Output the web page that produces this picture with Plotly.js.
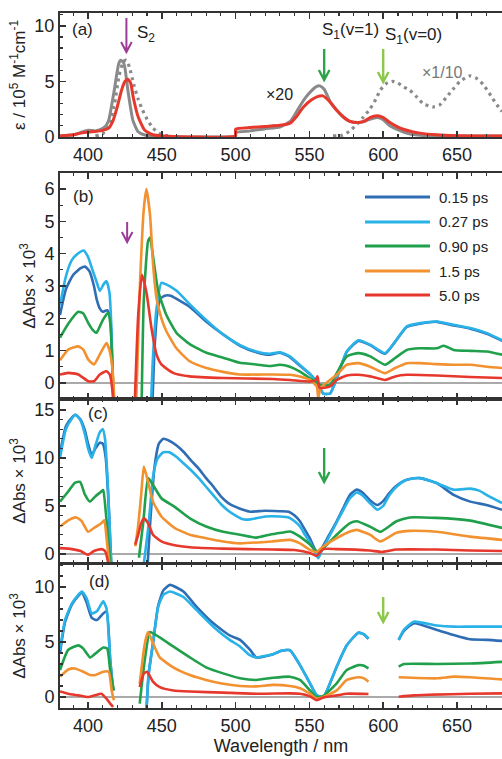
<!DOCTYPE html>
<html><head><meta charset="utf-8">
<script src="https://cdn.plot.ly/plotly-3.0.1.min.js"></script>
<style>html,body{margin:0;padding:0;background:#fff}#chart{width:502px;height:759px}</style>
</head><body><div id="chart"></div>
<script>
// ---------- Panel (a): steady-state absorption ----------
const A_ABS_WL = [381,390,395,400,405,409,412,414,417.5,420.8,422,424,425,427,430.4,433.8,438,445,499.9,500,510,520,530,537,541,546,551,555,557,560,564,568.5,573,577.5,583,587,591,596,600,604.6,609,613.6,619,625,636,681];
const A_ABS    = [0.1,0.2,0.4,0.6,0.55,0.7,1.0,1.5,4.0,6.6,6.9,6.7,6.2,4.2,1.5,0.5,0.2,0.1,0.1,0.4,0.55,0.75,0.9,1.4,2.2,3.3,4.1,4.55,4.6,4.3,3.2,2.4,1.8,1.4,1.3,1.4,1.6,1.75,1.55,1.0,0.7,0.45,0.25,0.15,0.1,0.1];
const A_RED_WL = [381,390,395,400,405,410,414,417,420,422.7,425,427,429,430.6,434,438.5,444,450,499.9,500,510,520,530,537,541,546,551,555,559,563,568.5,573,577.5,583,587,591,596,600,604.6,609,613.6,619,625,636,650,681];
const A_RED    = [0.1,0.2,0.35,0.45,0.5,0.6,0.8,1.5,2.8,4.2,5.0,5.2,4.8,3.6,1.8,0.6,0.2,0.1,0.1,0.7,0.85,0.95,1.05,1.25,1.8,2.7,3.3,3.6,3.7,3.3,2.4,1.8,1.4,1.3,1.4,1.75,1.9,1.75,1.3,0.95,0.7,0.5,0.35,0.2,0.12,0.1];
const A_FB_WL  = [405,410,414,418,421,424,426,428,431,434,437,440,444,448,452,456,510,566,572,577,582,586,591,595,598,602,606.6,610,614,618,622,627,633.7,638,643,648,652,658.8,663,667.6,671,674,677,680.5];
const A_FB     = [0.1,0.3,1.0,3.0,5.5,6.8,6.9,6.3,4.7,3.4,2.4,1.6,0.8,0.35,0.15,0.1,null,0.1,0.15,0.5,1.1,1.7,2.5,3.4,4.2,4.8,5.0,4.85,4.5,4.2,3.7,3.0,2.7,2.85,3.6,4.4,5.0,5.5,5.3,4.75,4.1,3.5,2.9,2.3];

// ---------- Series names ----------
const DELAYS = ['0.15 ps','0.27 ps','0.90 ps','1.5 ps','5.0 ps'];

// ---------- Panel (b) ----------
const B_WL_015 = [381,385,390,395,398,401,404,406,408,410,413,415,416.5,418,430,443,445,447,449,452,456,460,469,480,491.5,503,514,523,530,536.8,543.6,550.4,555,559.4,564,568.5,575.3,583.2,591.2,601.3,608.1,616,625,636.4,647.7,659,670.3,680.7];
const B_015    = [2.1,2.9,3.35,3.55,3.6,3.45,3.0,2.56,2.3,2.2,2.25,2.0,0.5,-1.5,null,-1.5,1.0,2.2,2.6,2.7,2.7,2.6,2.35,1.9,1.5,1.15,0.95,0.87,0.93,0.8,0.53,0.27,0.03,-0.33,-0.33,0.14,0.96,1.3,1.17,0.9,1.27,1.73,1.83,1.89,1.78,1.68,1.52,1.3];
const B_WL_027 = [381,385,389,393,397,400,403,406,408,410.5,412.5,414.5,416,417.5,430,442,444,446.4,449.7,453,460,469,480,491.5,503,514,523,530,536.8,543.6,550.4,555,559.4,564,568.5,575.3,583.2,591.2,601.3,608.1,616,625,636.4,647.7,659,670.3,680.7];
const B_027    = [2.4,3.3,3.8,4.0,4.1,3.9,3.5,3.1,2.85,3.05,3.15,2.8,1.5,-1.5,null,-1.5,0.8,2.3,3.1,3.05,2.85,2.43,1.95,1.5,1.17,0.97,0.9,0.95,0.82,0.55,0.28,0.03,-0.33,-0.33,0.14,0.97,1.32,1.18,0.92,1.28,1.75,1.85,1.9,1.8,1.7,1.54,1.32];
const B_WL_090 = [381,386.6,393.4,396.8,400.2,403,405.7,408,410.2,413.6,415.2,416.5,418,427,436,437.8,440.7,442,444.1,447.5,453.1,459.9,468.9,480.2,491.5,502.8,514,523,530,536.8,543.6,550.4,555,557,564,568.5,575.3,583.2,591.2,601.3,608.1,616,625,636.4,641,647.7,659,670.3,680.7];
const B_090    = [1.4,1.83,2.2,2.15,1.85,1.65,1.55,1.75,1.96,2.17,1.8,0.5,-1.5,null,-1.5,2.6,4.4,4.5,3.9,2.85,2.1,1.55,1.2,0.93,0.78,0.62,0.57,0.52,0.56,0.5,0.35,0.14,0.02,-0.06,-0.06,0.3,0.82,0.92,0.82,0.56,0.77,1.02,1.07,1.07,1.15,1.02,0.99,0.97,0.87];
const B_WL_15  = [381,386.6,393.4,396.8,400.2,404,408,412.5,414.7,417,418.5,425,432,435,437.8,439.6,442,444.1,446.4,449.7,453.1,459.9,468.9,480.2,491.5,502.8,525,536.8,543.6,550.4,555,556,557.5,568.5,575.3,583.2,591.2,601.3,608.1,616,625,636.4,647.7,659,670.3,680.7];
const B_15     = [0.7,1.03,1.13,1.03,0.72,0.57,0.88,1.23,0.98,0.2,-1.5,null,-1.5,2.83,5.4,6.0,5.2,3.65,2.62,2.0,1.6,1.07,0.67,0.46,0.34,0.26,0.26,0.25,0.2,0.09,-0.11,-0.47,-0.16,0.25,0.56,0.61,0.5,0.3,0.46,0.61,0.61,0.58,0.56,0.56,0.5,0.46];
const B_WL_50  = [381,386.6,393.4,400.2,404,408,412.5,414.7,417,418,425,431,434,436.5,439.6,443,446.4,449.7,457.6,469,491.5,525,536.8,550.4,554,555.5,557,564,568.5,575.3,583.2,591.2,601.3,608.1,616,636.4,659,680.7];
const B_50     = [0.26,0.31,0.26,0.05,0.05,0.26,0.36,0.26,-0.46,-1.5,null,-1.5,2.1,3.35,2.8,1.69,0.88,0.57,0.31,0.2,0.15,0.12,0.09,0.04,0.08,0.2,-0.16,-0.11,0.09,0.23,0.25,0.2,0.09,0.2,0.25,0.23,0.18,0.15];

// ---------- Panel (c) ----------
const C_WL_015 = [381,385,389,391.5,395,398,400,402.5,405,408,410,412,414,416,428,440,442,445,448,451,455,460,465,470,475,480,485,490,495,500,505,510,520,530,536,540,543.6,547,550.4,553.8,555.5,558,562,568.5,573,577.5,582,586,591,596,600,604,609,614,618,625,636,647.7,659,670,680.5];
const C_015    = [10.5,13.3,14.2,14.5,14.0,12.8,11.5,10.3,11.0,11.6,11.5,10.0,5.0,-2,null,-2,3,9,11.5,12.0,11.8,11.3,10.6,9.7,8.9,7.9,7.0,6.0,5.3,4.9,4.6,4.4,4.5,4.45,4.4,4.0,3.4,2.5,1.6,0.45,0.1,0.5,1.6,3.4,4.8,6.15,6.7,6.4,5.6,5.1,5.5,6.3,7.1,7.6,7.8,7.9,7.4,6.15,5.45,5.1,4.6];
const C_WL_027 = [381,385,389,391.5,395,398,400,402.5,405,408,410,411.5,413.5,416,426,437,441,444,447,451,455,460,465,470,475,480,485,490,495,500,505,510,520,530,536,540,543.6,547,550.4,553.8,556,558,562,568.5,573,577.5,582,586,591,596,600,604,609,614,618,625,636,647.7,659,665,670,680.5];
const C_027    = [10.0,13.0,14.1,14.5,13.9,12.4,11.0,10.0,11.3,12.7,13.0,12.0,7.0,-2,null,-2,3,8,9.9,10.6,10.6,10.1,9.4,8.7,7.9,7.0,6.1,5.2,4.5,4.0,3.6,3.6,3.9,3.9,3.8,3.4,2.85,2.0,1.2,0.2,-0.45,0.2,1.4,3.3,4.6,5.8,6.4,6.1,5.3,4.6,5.0,6.1,7.0,7.6,7.8,7.9,7.4,6.7,6.8,6.6,6.15,5.3];
const C_WL_090 = [381,386.6,391,394.6,398,401.3,405,409,410.3,412,414,415.5,425,434.5,437.5,440.7,444,449.7,458.7,469,480,491.5,503,514,523,531,537,543.6,550.4,555,559.4,568.5,577.5,582,591,598,609,618,636,659,680.7];
const C_090    = [5.45,6.5,7.4,7.5,6.15,5.45,6.0,6.5,6.67,4.4,1.0,-2,null,-0.4,3.4,7.9,7.2,5.8,4.9,3.7,2.85,2.3,2.0,1.7,2.0,2.2,2.33,1.8,0.97,0.28,0.6,2.0,3.2,3.4,2.85,2.3,3.4,3.8,3.75,3.47,2.7];
const C_WL_15  = [381,386.6,392,395.8,400,404,409,411,412.6,414,415,424,432,434,436,437.8,440.7,444,449.7,458.7,469,480,491.5,503,525,537,543.6,550.4,555,559.4,568.5,577.5,582,591,598,609,618,636,659,680.7];
const C_15     = [2.85,3.5,3.8,3.4,2.3,2.7,3.2,3.5,1.6,-0.5,-2,null,0.8,3.0,6.15,9.1,7.5,5.45,3.9,2.7,2.0,1.64,1.3,1.1,1.3,1.46,1.1,0.42,0.2,0.77,1.64,2.33,2.5,2.0,1.3,2.2,2.4,2.3,1.8,1.46];
const C_WL_50  = [381,389,395,400,404,409,411.5,413.5,414.5,424,432,434,436,437.8,440.7,444,449.7,458.7,469,491.5,525,540,550.4,555,559.4,568.5,591,599,609,636,659,680.7];
const C_50     = [0.6,0.5,0.3,-0.1,0.3,0.5,0.3,-0.8,-2,null,0.97,2.0,3.2,3.7,3.2,2.0,1.3,0.9,0.7,0.55,0.45,0.4,0.1,-0.2,0.5,0.5,0.35,0.2,0.45,0.45,0.35,0.3];

// ---------- Panel (d) ----------
const D_WL_BLUE = [381,384.4,389,393.4,395.8,399,402.5,406,410.3,412.6,415,417,428,439.5,441,444,447.5,451,455.5,464.6,473.6,484.9,496,503,509.7,514,525.4,531,536.8,543.6,550.4,555,559.4,568.5,575.3,583.2,587,590,600,610.5,613.9,620.7,636.5,647.8,659,670.4,680.8];
const D_015    = [4.0,6.8,8.4,9.2,9.5,8.6,7.2,7.0,7.6,7.8,3.4,0.6,null,-1.5,2,4.9,8.3,9.7,10.2,9.6,8.2,6.7,5.6,5.2,4.3,3.6,3.9,4.2,4.25,2.9,1.24,0.15,0.0,2.76,4.7,5.85,5.7,5.3,null,5.2,6.0,6.7,6.1,5.64,5.25,5.2,5.1];
const D_027    = [4.27,7.0,8.5,9.3,9.6,9.0,7.6,7.8,8.7,8.0,3.4,0.6,null,-1.5,2,4.9,8.2,9.3,9.6,9.1,7.9,6.4,5.2,4.6,3.8,3.6,3.9,4.2,4.27,2.9,1.24,0.15,0.0,2.76,4.7,5.85,5.7,5.3,null,5.2,6.1,6.85,6.5,6.4,6.4,6.4,6.4];
const D_WL_090 = [381,386.6,393.4,396.8,401.3,404.5,410.3,413,415,417.5,426,435,438.5,441.9,446.4,457.7,469,480,491.5,503,514,525.4,536.8,543.6,550.4,555,559.4,568.5,575.3,583.2,587,590,600,610.5,613.9,636.5,659,680.8];
const D_090    = [2.45,4.3,4.7,4.4,3.6,3.9,4.5,4.4,2.45,0.6,null,-0.6,3.4,5.9,5.6,4.6,3.6,2.7,2.15,1.7,1.55,1.75,1.85,1.55,0.6,0.0,0.1,1.24,2.45,2.9,2.85,2.6,null,2.76,3.0,3.0,3.05,3.2];
const D_WL_15  = [381,386.6,391,396.8,401.3,405,410.3,414,416,417.5,426,435,438.5,440.7,444,448.6,457.7,469,480,491.5,503,514,525.4,536.8,543.6,550.4,555,559.4,568.5,575.3,583.2,587,590,600,610.5,636.5,647.8,659,680.8];
const D_15     = [1.85,2.5,2.6,2.3,2.0,2.0,2.3,2.3,0.6,-0.3,null,1.2,4.9,5.9,4.9,3.6,2.7,2.0,1.55,1.2,1.0,0.97,1.1,1.0,0.8,0.3,-0.15,0.0,0.6,1.55,1.8,1.7,1.4,null,1.8,1.7,1.85,1.8,1.6];
const D_WL_50  = [381,386.6,393.4,400,404.5,409,412.5,415,417,426,435,437.8,440,444,448.6,457.7,469,491.5,514,536.8,543.6,550.4,555,559.4,568.5,575.3,590,600,610.5,620.7,659,680.8];
const D_50     = [0.5,0.3,0.15,0.0,0.15,0.3,-0.15,-0.6,-0.9,null,0.9,2.15,2.3,1.4,0.9,0.6,0.5,0.4,0.3,0.33,0.3,0.06,-0.3,-0.05,0.15,0.3,0.27,null,0.03,0.15,0.3,0.33];

// Arrow wavelengths (nm)
const ARROW_S2 = 426, ARROW_V1 = 560, ARROW_V0 = 600;

// ---------- Styling ----------
const W = 502, H = 759;
const FONT = 'Liberation Sans, Arial, Helvetica, sans-serif';
const COLORS = ['#2f6db4', '#29b2e8', '#21a04c', '#f2912f', '#e6382c'];
const PANELS = [{top:13,bottom:137},{top:173,bottom:399},{top:399,bottom:563},{top:564,bottom:708}];
const XL = 60;
const XRANGE = [381, 680.5];
const fx = p => p / W, fy = p => 1 - p / H;
const dom = i => [fy(PANELS[i].bottom), fy(PANELS[i].top)];

const traces = [];
function add(ax, x, y, color, width, dash) {
  traces.push({type:'scatter', mode:'lines', x:x, y:y, xaxis:'x'+(ax||''), yaxis:'y'+(ax||''),
    connectgaps:false, showlegend:false, hoverinfo:'skip',
    line:{color:color, width:width, dash:dash||'solid', shape:'spline', smoothing:0.5}});
}
// (a)
add('', A_FB_WL, A_FB, '#8a8a8a', 3.2, '3px,4px');
add('', A_ABS_WL, A_ABS, '#8a8a8a', 3);
add('', A_RED_WL, A_RED, '#e6382c', 3);
// (b),(c),(d)
const sets = [
  ['2', [[B_WL_015,B_015],[B_WL_027,B_027],[B_WL_090,B_090],[B_WL_15,B_15],[B_WL_50,B_50]]],
  ['3', [[C_WL_015,C_015],[C_WL_027,C_027],[C_WL_090,C_090],[C_WL_15,C_15],[C_WL_50,C_50]]],
  ['4', [[D_WL_BLUE,D_015],[D_WL_BLUE,D_027],[D_WL_090,D_090],[D_WL_15,D_15],[D_WL_50,D_50]]]
];
sets.forEach(([ax, list]) => list.forEach((s, k) => add(ax, s[0], s[1], COLORS[k], 2.6)));

const tickFont = {family:FONT, size:18, color:'#222'};
function xax(i, labels, title) {
  const o = {domain:[fx(XL), 1], range:XRANGE, anchor:'y'+(i?i+1:''),
    showline:true, linecolor:'#333', linewidth:2, mirror:'ticks',
    ticks:'inside', ticklen:6, tickwidth:1.5, tickcolor:'#333', tick0:400, dtick:50,
    minor:{dtick:10, ticks:'inside', ticklen:3, tickwidth:1.2, tickcolor:'#333'},
    showgrid:false, zeroline:false, showticklabels:labels, tickfont:tickFont, fixedrange:true};
  if (title) o.title = {text:title, font:{family:FONT, size:18, color:'#222'}, standoff:4};
  return o;
}
function yax(i, range, dtick, mdt, title) {
  return {domain:dom(i), range:range, anchor:'x'+(i?i+1:''),
    showline:true, linecolor:'#333', linewidth:2, mirror:false,
    ticks:'inside', ticklen:6, tickwidth:1.5, tickcolor:'#333', tick0:0, dtick:dtick,
    minor:{dtick:mdt, ticks:'inside', ticklen:3, tickwidth:1.2, tickcolor:'#333'},
    showgrid:false, zeroline:i>0, zerolinecolor:'#aaaaaa', zerolinewidth:1.5,
    tickfont:tickFont, fixedrange:true,
    title:{text:title, font:{family:FONT, size:17, color:'#222'}, standoff:4}};
}
const DA = 'ΔAbs × 10<sup>3</sup>';

const shapes = [], annotations = [];
function arrow(ax, wl, y1, y2, color, w) {
  const hw = 3.6, hh = 10 / H;
  const ya = fy(y1), yb = fy(y2);
  shapes.push({type:'path', xref:ax, yref:'paper', layer:'above',
    path:`M${wl},${ya} L${wl},${yb} M${wl-hw},${yb+hh} L${wl},${yb} L${wl+hw},${yb+hh}`,
    line:{color:color, width:w}});
}
arrow('x', ARROW_S2, 18, 52, '#9c3c98', 2);
arrow('x', ARROW_V1, 49, 80, '#2ea24c', 2.4);
arrow('x', ARROW_V0, 49, 82, '#8cc84a', 2.4);
arrow('x2', ARROW_S2+0.5, 222, 242, '#9c3c98', 2);
arrow('x3', ARROW_V1, 448, 482, '#2ea24c', 2.4);
arrow('x4', ARROW_V0, 597, 622, '#8cc84a', 2.4);

function txt(t, xp, yp, anchor, size, color) {
  annotations.push({text:t, xref:'paper', yref:'paper', x:fx(xp), y:fy(yp), xanchor:anchor||'left', yanchor:'middle',
    showarrow:false, font:{family:FONT, size:size||17, color:color||'#222'}});
}
txt('(a)', 82, 30, 'center');
txt('(b)', 83, 196, 'center');
txt('(c)', 98, 414, 'center');
txt('(d)', 99, 581, 'center');
txt('S<sub>2</sub>', 135, 34);
txt('S<sub>1</sub>(v=1)', 320, 31);
txt('S<sub>1</sub>(v=0)', 383, 36);
txt('×20', 264, 95, 'left', 16);
txt('×1/10', 420, 72, 'left', 16, '#777');

// manual legend in panel (b)
const LEG_Y = [197, 222, 246, 271, 295];
DELAYS.forEach((name, k) => {
  shapes.push({type:'line', xref:'paper', yref:'paper', x0:fx(365), x1:fx(430), y0:fy(LEG_Y[k]), y1:fy(LEG_Y[k]),
    line:{color:COLORS[k], width:3}});
  txt(name, 437, LEG_Y[k], 'left', 15);
});

const layout = {
  width:W, height:H, margin:{l:0, r:0, t:0, b:0}, paper_bgcolor:'#fff', plot_bgcolor:'#fff',
  showlegend:false, font:{family:FONT, color:'#222'},
  xaxis: xax(0, true), xaxis2: xax(1, false), xaxis3: xax(2, false), xaxis4: xax(3, true, 'Wavelength / nm'),
  yaxis: yax(0, [0, 11.15], 5, 1, 'ε / 10<sup>5</sup> M<sup>-1</sup>cm<sup>-1</sup>'),
  yaxis2: yax(1, [-0.5, 6.5], 1, 0.5, DA),
  yaxis3: yax(2, [-0.95, 16.15], 5, 1, DA),
  yaxis4: yax(3, [-1, 12.1], 5, 1, DA),
  shapes: shapes, annotations: annotations
};
Plotly.newPlot('chart', traces, layout, {staticPlot:true, displayModeBar:false});
</script></body></html>
